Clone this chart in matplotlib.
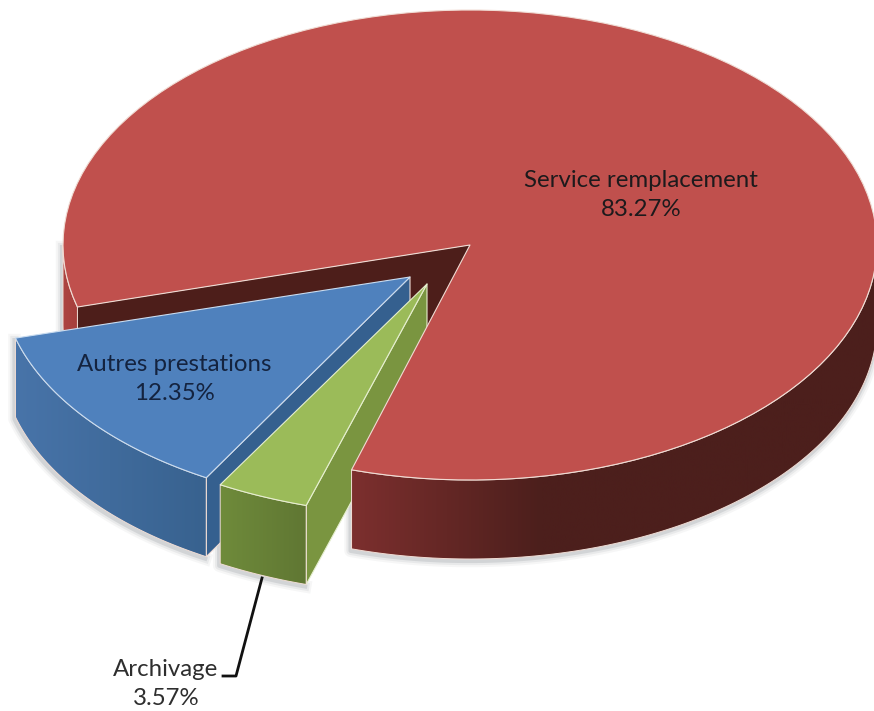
import numpy as np
import matplotlib
matplotlib.use("Agg")
import matplotlib.pyplot as plt
from matplotlib.colors import to_rgb
from matplotlib.patches import Polygon

labels = ["Autres prestations", "Archivage", "Service remplacement"]
shares = [12.35, 3.57, 83.27]

# pie geometry, in pixels
RX, RY = 407, 235
DEPTH = 79
START = 195.3
CENTER = (470, 245)
EDGE = "#f0dcd4"

plt.rcParams["font.family"] = ["Lato", "DejaVu Sans"]

fig = plt.figure(figsize=(8.74, 7.11), dpi=100)
ax = fig.add_axes([0, 0, 1, 1])


def arc(c, t0, t1, scale=(1, 1)):
    t = np.radians(np.linspace(t0, t1, 120))
    return np.column_stack([c[0] + RX * scale[0] * np.cos(t), c[1] - RY * scale[1] * np.sin(t)])


def down(pts):
    return pts + [0, DEPTH]


def gradient(pts, left, right, z, stop=1.0):
    # horizontal shade clipped to the polygon, flat after stop
    x0, x1 = pts[:, 0].min(), pts[:, 0].max()
    ramp = np.clip(np.linspace(0, 1, 256) / stop, 0, 1)[None, :, None]
    img = np.array(to_rgb(left))[None, None, :] * (1 - ramp) + np.array(to_rgb(right))[None, None, :] * ramp
    im = ax.imshow(img, extent=[x0, x1, pts[:, 1].max(), pts[:, 1].min()], aspect="auto", zorder=z)
    clip = Polygon(pts, closed=True, transform=ax.transData, fc="none", ec="none")
    ax.add_patch(clip)
    im.set_clip_path(clip)
    ax.add_patch(Polygon(pts, closed=True, fc="none", ec=EDGE, lw=0.7, zorder=z + 0.1))


def flat(pts, color, z, edge=EDGE):
    ax.add_patch(Polygon(pts, closed=True, fc=color, ec=edge, lw=0.8, zorder=z, joinstyle="round"))


def shadow(c, t0, t1, scale=(1, 1)):
    # soft grey halo along the lower rim only
    top = arc(c, t0, t1, scale)
    line = np.vstack([top[0], down(top)]) + [-1, 2]
    for lw, alpha in [(9, 0.05), (6, 0.08), (3, 0.14)]:
        ax.plot(line[:, 0], line[:, 1], color="#505860", lw=lw, alpha=alpha, zorder=1)


def outer_wall(c, t0, t1, scale=(1, 1)):
    top = arc(c, t0, t1, scale)
    return np.vstack([top, down(top)[::-1]])


def side_face(c, t, scale=(1, 1)):
    rim = arc(c, t, t, scale)[0]
    return np.array([c, rim, rim + [0, DEPTH], np.array(c) + [0, DEPTH]], dtype=float)


def sector(c, t0, t1, scale=(1, 1)):
    return np.vstack([[c], arc(c, t0, t1, scale)])


def label_text(i, x, y, color):
    ax.text(x, y, f"{labels[i]}\n{shares[i]:.2f}%", ha="center", va="center",
            fontsize=17.3, color=color, linespacing=1.48, zorder=20)


# wedge angles go counter-clockwise from START, in the order of the lists
sweep = np.array(shares) / sum(shares) * 360
ends = START + np.cumsum(sweep)
a0, a1, a2 = START, ends[0], ends[1]

blue_c = (410, 277)
blue_s = (1.005, 0.985)
green_c = (427, 284)
green_s = (1.02, 0.985)

# red back pieces
flat(side_face(CENTER, a0), "#4d1e1a", 2, edge="none")
shadow(CENTER, 180, a0)
gradient(outer_wall(CENTER, 180, a0), "#ad4441", "#a53f3c", 2)

# blue slice
shadow(blue_c, a0, a1, blue_s)
flat(side_face(blue_c, a1, blue_s), "#35608f", 3)
gradient(outer_wall(blue_c, a0, a1, blue_s), "#4874a9", "#38628f", 3)
flat(sector(blue_c, a0, a1, blue_s), "#4f81bd", 4, edge="#c9dcf0")

# green slice
shadow(green_c, a1, a2, green_s)
flat(side_face(green_c, a2, green_s), "#7a9540", 5, edge="#e6efcf")
gradient(outer_wall(green_c, a1, a2, green_s), "#6f8b3b", "#607733", 5)
flat(sector(green_c, a1, a2, green_s), "#9bbb59", 6, edge="#e6efcf")

# red front pieces sit over the green inner face
shadow(CENTER, a2, 360)
gradient(outer_wall(CENTER, a2, 360), "#7c2f2e", "#4c1f1c", 7, stop=0.36)
flat(sector(CENTER, a2, a0 + 360), "#c0504d", 8)

# leader line for the small slice
ax.plot([262, 236, 223], [578, 676, 676], color="#111111", lw=2, zorder=9,
        solid_joinstyle="round")

label_text(2, 641, 195, "#1d1a1c")
label_text(0, 174, 379, "#14233f")
label_text(1, 166, 684, "#2e2e2e")

ax.set_xlim(0, 874)
ax.set_ylim(711, 0)
ax.axis("off")

fig.savefig("out.png", dpi=100, facecolor="white")
